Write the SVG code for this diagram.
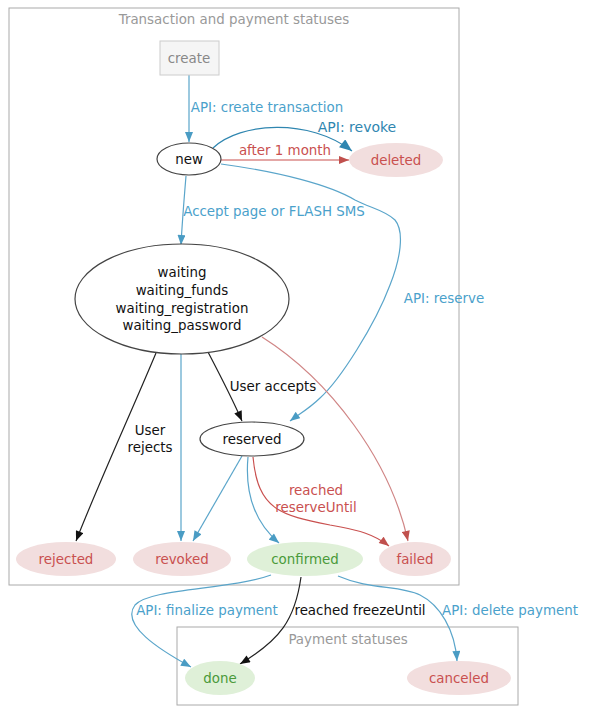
<svg xmlns="http://www.w3.org/2000/svg" width="589" height="716" viewBox="0 0 589 716">
<defs>
<style>
text{font-family:"DejaVu Sans",Verdana,sans-serif;font-size:13.4px;text-anchor:middle;dominant-baseline:central}
.cl{fill:none;stroke:#aaa;stroke-width:1}
.ct{fill:#999}
.e{fill:none;stroke-width:1.2}
.b{stroke:#5aa5ca}
.bd{stroke:#2f86b0}
.r{stroke:#c9504f}
.rl{stroke:#d08585}
.k{stroke:#222}
.lb{fill:#4aa1cb}
.lbd{fill:#2f86b0}
.lr{fill:#c9504f}
.lk{fill:#111}
.pink{fill:#f2dede}
.green{fill:#dff0d8}
.tr{fill:#c9504f}
.tg{fill:#4a9a3a}
.plain{fill:#fff;stroke:#444;stroke-width:1.2}
</style>
<marker id="ab" viewBox="0 0 10 8" refX="10" refY="4" markerWidth="11" markerHeight="8" markerUnits="userSpaceOnUse" orient="auto"><path d="M0,0L10,4L0,8z" fill="#4a9cc4"/></marker>
<marker id="abd" viewBox="0 0 10 8" refX="10" refY="4" markerWidth="13" markerHeight="10" markerUnits="userSpaceOnUse" orient="auto"><path d="M0,0L10,4L0,8z" fill="#2f86b0"/></marker>
<marker id="ar" viewBox="0 0 10 8" refX="10" refY="4" markerWidth="11" markerHeight="8" markerUnits="userSpaceOnUse" orient="auto"><path d="M0,0L10,4L0,8z" fill="#c0504d"/></marker>
<marker id="ak" viewBox="0 0 10 8" refX="10" refY="4" markerWidth="11" markerHeight="8" markerUnits="userSpaceOnUse" orient="auto"><path d="M0,0L10,4L0,8z" fill="#111"/></marker>
</defs>
<rect width="589" height="716" fill="#fff"/>
<g id="cluster-transaction">
<rect class="cl" x="9" y="8" width="450" height="577"/>
<text class="ct" x="234" y="19">Transaction and payment statuses</text>
</g>
<g id="cluster-payment">
<rect class="cl" x="177" y="627" width="341" height="78"/>
<text class="ct" x="348" y="639">Payment statuses</text>
</g>
<g id="connectors">
<path class="e b" d="M189,75 L189,142" marker-end="url(#ab)"/>
<text class="lb" x="267" y="107">API: create transaction</text>
<path class="e r" d="M221,160 L349,160" marker-end="url(#ar)"/>
<text class="lr" x="285" y="150">after 1 month</text>
<path class="e bd" d="M213,148 C240,122 310,118 352,151" marker-end="url(#abd)"/>
<text class="lbd" x="357" y="127" style="font-size:14px">API: revoke</text>
<path class="e b" d="M186,176 C184,200 182,225 181,245" marker-end="url(#ab)"/>
<text class="lb" x="274" y="211">Accept page or FLASH SMS</text>
<path class="e b" d="M221,164 C280,172 330,185 355,200 C370,208 385,210 395,220 C405,232 400,260 390,285 C375,325 340,380 320,398 C310,408 298,415 290,421" marker-end="url(#ab)"/>
<text class="lb" x="444" y="298">API: reserve</text>
<path class="e k" d="M208,352 C220,375 232,398 242,421" marker-end="url(#ak)"/>
<text class="lk" x="273" y="386">User accepts</text>
<path class="e k" d="M156,353 C130,415 100,480 76,541" marker-end="url(#ak)"/>
<text class="lk" x="150" y="430">User</text>
<text class="lk" x="150" y="447">rejects</text>
<path class="e b" d="M181,354 L181,541" marker-end="url(#ab)"/>
<path class="e b" d="M242,456 L193,541" marker-end="url(#ab)"/>
<path class="e b" d="M248,457 C245,490 252,520 279,543" marker-end="url(#ab)"/>
<path class="e r" d="M253,457 C258,510 280,515 330,525 C360,530 375,535 389,546" marker-end="url(#ar)"/>
<text class="lr" x="316" y="490">reached</text>
<text class="lr" x="316" y="507">reserveUntil</text>
<path class="e rl" d="M262,337 C330,380 390,460 408,541" marker-end="url(#ar)"/>
<path class="e b" d="M271,575 C230,590 150,588 135,605 C120,625 160,650 191,667" marker-end="url(#ab)"/>
<text class="lb" x="207" y="610">API: finalize payment</text>
<path class="e k" d="M301,577 C295,620 280,640 240,664" marker-end="url(#ak)"/>
<text class="lk" x="360" y="610">reached freezeUntil</text>
<path class="e b" d="M338,576 C370,590 400,585 420,595 C440,605 455,630 457,661" marker-end="url(#ab)"/>
<text class="lb" x="510" y="610">API: delete payment</text>
</g>
<g id="node-create">
<rect x="160" y="41" width="59" height="34" fill="#f5f5f5" stroke="#ccc"/>
<text x="189" y="58" fill="#888">create</text>
</g>
<g id="node-new">
<ellipse class="plain" cx="189" cy="159" rx="32" ry="16"/>
<text x="189" y="159" fill="#111">new</text>
</g>
<g id="node-deleted">
<ellipse class="pink" cx="396" cy="160" rx="47" ry="17"/>
<text class="tr" x="396" y="160">deleted</text>
</g>
<g id="node-waiting">
<ellipse class="plain" cx="182" cy="299" rx="107" ry="55"/>
<text x="182" y="272" fill="#111">waiting</text>
<text x="182" y="290" fill="#111">waiting_funds</text>
<text x="182" y="308" fill="#111">waiting_registration</text>
<text x="182" y="325" fill="#111">waiting_password</text>
</g>
<g id="node-reserved">
<ellipse class="plain" cx="252" cy="439" rx="52" ry="17"/>
<text x="252" y="439" fill="#111">reserved</text>
</g>
<g id="node-rejected">
<ellipse class="pink" cx="66" cy="559" rx="50" ry="17"/>
<text class="tr" x="66" y="559">rejected</text>
</g>
<g id="node-revoked">
<ellipse class="pink" cx="182" cy="559" rx="49" ry="17"/>
<text class="tr" x="182" y="559">revoked</text>
</g>
<g id="node-confirmed">
<ellipse class="green" cx="305" cy="559" rx="58" ry="17"/>
<text class="tg" x="305" y="559">confirmed</text>
</g>
<g id="node-failed">
<ellipse class="pink" cx="415" cy="559" rx="36" ry="17"/>
<text class="tr" x="415" y="559">failed</text>
</g>
<g id="node-done">
<ellipse class="green" cx="220" cy="678" rx="35" ry="17"/>
<text class="tg" x="220" y="678">done</text>
</g>
<g id="node-canceled">
<ellipse class="pink" cx="459" cy="678" rx="52" ry="17"/>
<text class="tr" x="459" y="678">canceled</text>
</g>
</svg>
